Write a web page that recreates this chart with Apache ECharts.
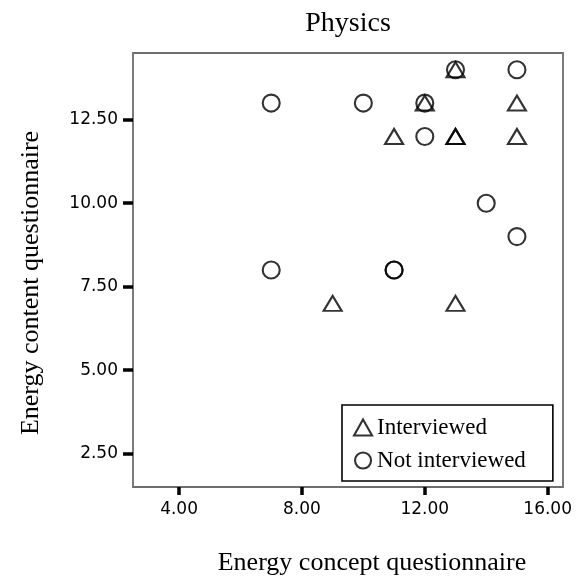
<!DOCTYPE html>
<html>
<head>
<meta charset="utf-8">
<script src="https://cdn.jsdelivr.net/npm/echarts@6/dist/echarts.min.js"></script>
<style>
  html, body { margin: 0; padding: 0; background: #fff; }
  #main { width: 584px; height: 577px; }
</style>
</head>
<body>
<div id="main"></div>
<script>
// Energy concept (x) vs energy content (y) scores
var interviewed = [[13, 14], [12, 13], [15, 13], [11, 12], [13, 12], [13, 12], [15, 12], [9, 7], [13, 7]];
var notInterviewed = [[13, 14], [15, 14], [7, 13], [10, 13], [12, 13], [12, 12], [14, 10], [15, 9], [7, 8], [11, 8], [11, 8]];
var xTicks = [4, 8, 12, 16];
var yTicks = [2.5, 5, 7.5, 10, 12.5];

var serif = 'Liberation Serif';
var hollow = { color: 'transparent', borderColor: '#000', borderWidth: 2.1 };

var chart = echarts.init(document.getElementById('main'));
chart.setOption({
  animation: false,
  title: {
    text: 'Physics',
    left: 343, top: 5, textAlign: 'center',
    textStyle: { fontFamily: serif, fontSize: 28, fontWeight: 'normal', color: '#000' }
  },
  grid: {
    left: 133, right: 21, top: 53, bottom: 90,
    show: true, borderColor: '#6e6e6e', borderWidth: 1.8,
    outerBoundsMode: 'none'
  },
  legend: {
    orient: 'vertical',
    left: 342, top: 405,
    padding: [11, 27, 9, 11],
    itemGap: 10,
    itemWidth: 18, itemHeight: 16,
    borderColor: '#000', borderWidth: 1.6,
    backgroundColor: '#fff',
    itemStyle: hollow,
    textStyle: { fontFamily: serif, fontSize: 23, color: '#000' },
    data: [
      { name: 'Interviewed', icon: 'triangle' },
      { name: 'Not interviewed', icon: 'circle' }
    ]
  },
  xAxis: {
    type: 'value', min: 2.5, max: 16.5,
    name: 'Energy concept questionnaire',
    nameLocation: 'middle', nameGap: 63,
    nameTextStyle: { fontFamily: serif, fontSize: 26, color: '#000', padding: [0, 0, 0, 48] },
    axisLine: { show: false },
    axisTick: { show: true, length: 8, lineStyle: { color: '#000', width: 3.5 }, customValues: xTicks },
    axisLabel: {
      customValues: xTicks, margin: 14,
      fontFamily: 'DejaVu Sans', fontSize: 17, color: '#000',
      formatter: function (v) { return v.toFixed(2); }
    },
    splitLine: { show: false }
  },
  yAxis: {
    type: 'value', min: 1.5, max: 14.5,
    name: 'Energy content questionnaire',
    nameLocation: 'middle', nameGap: 89, nameRotate: 90,
    nameTextStyle: { fontFamily: serif, fontSize: 26, color: '#000', padding: [0, 26, 0, 0] },
    axisLine: { show: false },
    axisTick: { show: true, length: 10, lineStyle: { color: '#000', width: 3.5 }, customValues: yTicks },
    axisLabel: {
      customValues: yTicks, margin: 15,
      fontFamily: 'DejaVu Sans', fontSize: 17, color: '#000',
      formatter: function (v) { return v.toFixed(2); }
    },
    splitLine: { show: false }
  },
  series: [
    {
      name: 'Interviewed', type: 'scatter',
      symbol: 'triangle', symbolSize: [18, 15],
      itemStyle: hollow,
      data: interviewed
    },
    {
      name: 'Not interviewed', type: 'scatter',
      symbol: 'circle', symbolSize: 17,
      itemStyle: hollow,
      data: notInterviewed
    }
  ]
});
</script>
</body>
</html>
